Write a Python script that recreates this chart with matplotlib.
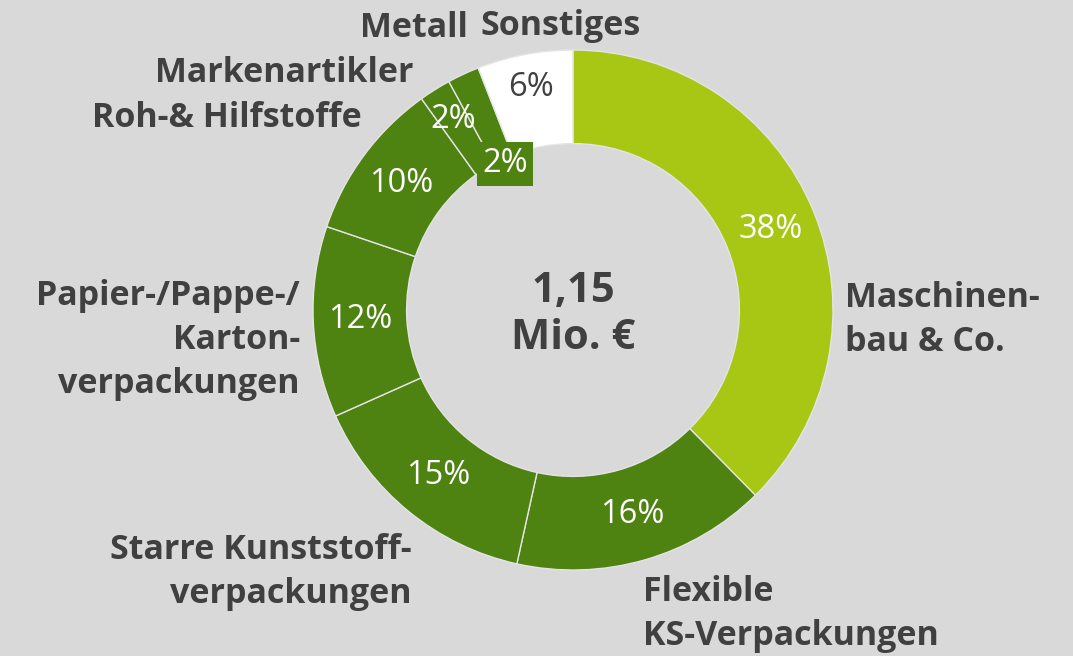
import matplotlib.pyplot as plt
import numpy as np

plt.rcParams['font.family'] = ['Open Sans', 'DejaVu Sans']

# data
categories = ["Maschinen-\nbau & Co.", "Flexible\nKS-Verpackungen", "Starre Kunststoff-\nverpackungen",
              "Papier-/Pappe-/\nKarton-\nverpackungen", "Roh-& Hilfstoffe", "Markenartikler",
              "Metall", "Sonstiges"]
shares = [38, 16, 15, 12, 10, 2, 2, 6]
center_text = "1,15\nMio. €"

LIGHT = '#a8c614'
DARK = '#4e8211'
BG = '#d9d9d9'
TXT = '#404040'
colors = [LIGHT, DARK, DARK, DARK, DARK, DARK, DARK, 'white']

W, H = 1073, 656
fig = plt.figure(figsize=(W / 100, H / 100), dpi=100, facecolor=BG)
ax = fig.add_axes([0, 0, 1, 1])
ax.set_facecolor(BG)

cx, cy, R = 573, H - 310, 260
wedges, _ = ax.pie(shares, colors=colors, startangle=90, counterclock=False,
                   center=(cx, cy), radius=R,
                   wedgeprops=dict(width=R * 0.36, edgecolor='#e4e4e4', linewidth=1))
ax.set_xlim(0, W)
ax.set_ylim(0, H)
ax.set_aspect('equal')
ax.axis('off')

# percent labels on the ring
pct_dist = [0.82, 0.82, 0.82, 0.82, 0.82, 0.865, 0.62, 0.87]
for i, w in enumerate(wedges):
    ang = np.deg2rad((w.theta1 + w.theta2) / 2)
    r = R * pct_dist[i]
    x, y = cx + r * np.cos(ang), cy + r * np.sin(ang)
    col = TXT if colors[i] == 'white' else 'white'
    kw = {}
    if i == 6:
        kw['bbox'] = dict(facecolor=DARK, edgecolor='none', pad=4)
    ax.text(x, y, f"{shares[i]}%", color=col, fontsize=23.5,
            ha='center', va='center', **kw)

# category labels (x, y in pixels from top, alignment)
label_pos = [(845, 320, 'left'), (643, 614, 'left'), (412, 572, 'right'),
             (300, 340, 'right'), (362, 118, 'right'), (413, 73, 'right'),
             (468, 28, 'right'), (480, 26, 'left')]
for txt, (x, y, ha) in zip(categories, label_pos):
    ax.text(x, H - y, txt, color=TXT, fontsize=24.5, fontweight='bold', ha=ha, va='center',
            linespacing=1.38)

ax.text(cx, cy - 5, center_text, color=TXT, fontsize=30, fontweight='bold', ha='center',
        va='center', linespacing=1.22)

fig.savefig('out.png', dpi=100, facecolor=BG)
